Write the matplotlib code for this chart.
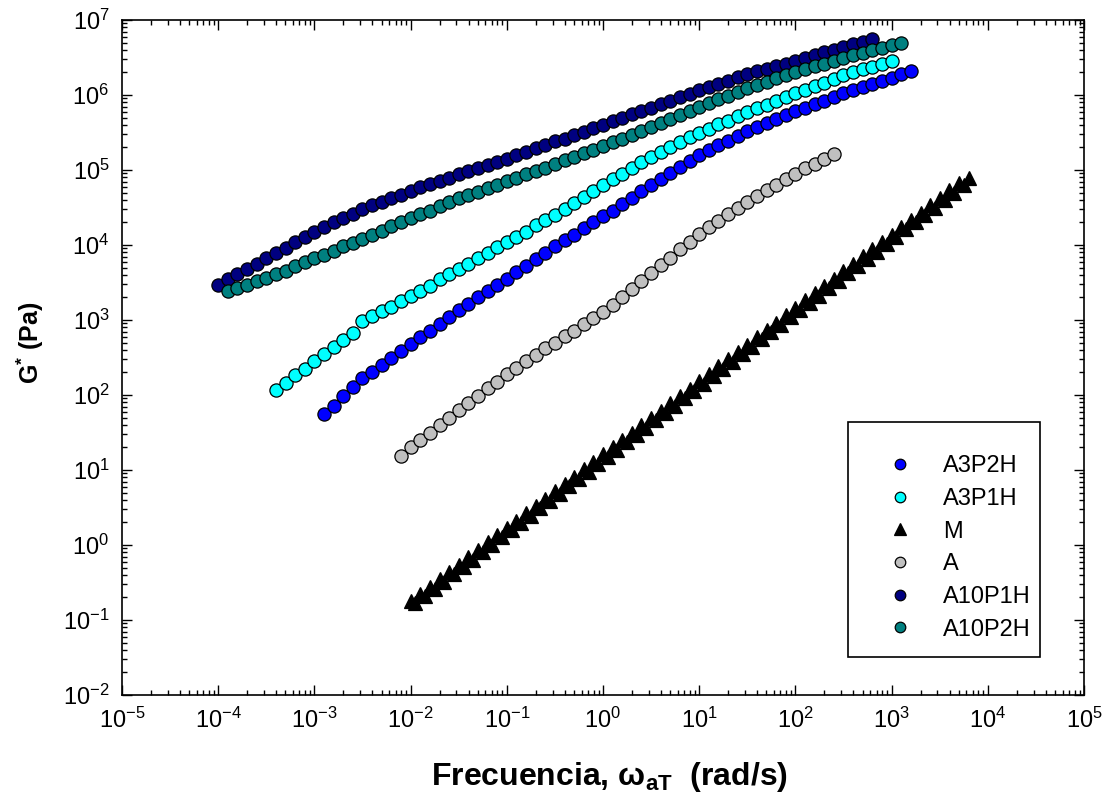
import matplotlib
matplotlib.use('Agg')
import matplotlib.pyplot as plt
from matplotlib.patches import Rectangle
from matplotlib.ticker import LogLocator, NullFormatter

plt.rcParams['font.family'] = ['Liberation Sans', 'DejaVu Sans']
plt.rcParams['mathtext.fontset'] = 'custom'
plt.rcParams['mathtext.rm'] = 'Liberation Sans'
plt.rcParams['mathtext.it'] = 'Liberation Sans:italic'
plt.rcParams['mathtext.bf'] = 'Liberation Sans:bold'
plt.rcParams['mathtext.default'] = 'regular'

# A3P2H
a3p2h_w = [1.26e-3, 1.58e-3, 2.00e-3, 2.51e-3, 3.16e-3, 3.98e-3, 5.01e-3, 6.31e-3, 7.94e-3,
           1.00e-2, 1.26e-2, 1.58e-2, 2.00e-2, 2.51e-2, 3.16e-2, 3.98e-2, 5.01e-2, 6.31e-2, 7.94e-2,
           1.00e-1, 1.26e-1, 1.58e-1, 2.00e-1, 2.51e-1, 3.16e-1, 3.98e-1, 5.01e-1, 6.31e-1, 7.94e-1,
           1.00, 1.26, 1.58, 2.00, 2.51, 3.16, 3.98, 5.01, 6.31, 7.94,
           10.0, 12.6, 15.8, 20.0, 25.1, 31.6, 39.8, 50.1, 63.1, 79.4,
           100, 126, 158, 200, 251, 316, 398, 501, 631, 794,
           1000, 1260, 1580]
a3p2h_g = [5.50e1, 7.24e1, 9.55e1, 1.26e2, 1.66e2, 2.04e2, 2.51e2, 3.16e2, 3.89e2,
           4.79e2, 5.89e2, 7.24e2, 8.91e2, 1.10e3, 1.35e3, 1.62e3, 2.00e3, 2.40e3, 2.95e3,
           3.55e3, 4.37e3, 5.25e3, 6.46e3, 7.76e3, 9.55e3, 1.15e4, 1.38e4, 1.66e4, 2.00e4,
           2.40e4, 2.88e4, 3.55e4, 4.27e4, 5.25e4, 6.31e4, 7.59e4, 9.12e4, 1.10e5, 1.32e5,
           1.58e5, 1.82e5, 2.14e5, 2.45e5, 2.88e5, 3.31e5, 3.72e5, 4.17e5, 4.79e5, 5.37e5,
           6.03e5, 6.76e5, 7.59e5, 8.32e5, 9.33e5, 1.05e6, 1.15e6, 1.29e6, 1.41e6, 1.55e6,
           1.70e6, 1.91e6, 2.09e6]

# A3P1H
a3p1h_w = [3.98e-4, 5.01e-4, 6.31e-4, 7.94e-4,
           1.00e-3, 1.26e-3, 1.58e-3, 2.00e-3, 2.51e-3, 3.16e-3, 3.98e-3, 5.01e-3, 6.31e-3, 7.94e-3,
           1.00e-2, 1.26e-2, 1.58e-2, 2.00e-2, 2.51e-2, 3.16e-2, 3.98e-2, 5.01e-2, 6.31e-2, 7.94e-2,
           1.00e-1, 1.26e-1, 1.58e-1, 2.00e-1, 2.51e-1, 3.16e-1, 3.98e-1, 5.01e-1, 6.31e-1, 7.94e-1,
           1.00, 1.26, 1.58, 2.00, 2.51, 3.16, 3.98, 5.01, 6.31, 7.94,
           10.0, 12.6, 15.8, 20.0, 25.1, 31.6, 39.8, 50.1, 63.1, 79.4,
           100, 126, 158, 200, 251, 316, 398, 501, 631, 794,
           1000]
a3p1h_g = [1.15e2, 1.45e2, 1.82e2, 2.24e2,
           2.82e2, 3.47e2, 4.37e2, 5.37e2, 6.61e2, 9.55e2, 1.12e3, 1.32e3, 1.51e3, 1.78e3,
           2.09e3, 2.45e3, 2.88e3, 3.47e3, 4.07e3, 4.79e3, 5.62e3, 6.61e3, 7.94e3, 9.33e3,
           1.10e4, 1.29e4, 1.51e4, 1.82e4, 2.14e4, 2.51e4, 3.02e4, 3.63e4, 4.37e4, 5.25e4,
           6.31e4, 7.59e4, 8.91e4, 1.07e5, 1.26e5, 1.51e5, 1.74e5, 2.04e5, 2.34e5, 2.75e5,
           3.16e5, 3.55e5, 4.07e5, 4.57e5, 5.25e5, 5.89e5, 6.61e5, 7.41e5, 8.32e5, 9.33e5,
           1.05e6, 1.17e6, 1.32e6, 1.45e6, 1.62e6, 1.82e6, 2.00e6, 2.19e6, 2.34e6, 2.57e6,
           2.82e6]

# M
m_w = [1.00e-2, 1.12e-2, 1.26e-2, 1.41e-2, 1.58e-2, 1.78e-2, 2.00e-2, 2.24e-2, 2.51e-2, 2.82e-2,
       3.16e-2, 3.55e-2, 3.98e-2, 4.47e-2, 5.01e-2, 5.62e-2, 6.31e-2, 7.08e-2, 7.94e-2, 8.91e-2,
       0.100, 0.112, 0.126, 0.141, 0.158, 0.178, 0.200, 0.224, 0.251, 0.282,
       0.316, 0.355, 0.398, 0.447, 0.501, 0.562, 0.631, 0.708, 0.794, 0.891,
       1.00, 1.12, 1.26, 1.41, 1.58, 1.78, 2.00, 2.24, 2.51, 2.82,
       3.16, 3.55, 3.98, 4.47, 5.01, 5.62, 6.31, 7.08, 7.94, 8.91,
       10.0, 11.2, 12.6, 14.1, 15.8, 17.8, 20.0, 22.4, 25.1, 28.2,
       31.6, 35.5, 39.8, 44.7, 50.1, 56.2, 63.1, 70.8, 79.4, 89.1,
       100, 112, 126, 141, 158, 178, 200, 224, 251, 282,
       316, 355, 398, 447, 501, 562, 631, 708, 794, 891,
       1000, 1120, 1260, 1410, 1580, 1780, 2000, 2240, 2510, 2820,
       3160, 3550, 3980, 4470, 5010, 5620, 6310]
m_g = [0.178, 0.166, 0.223, 0.207, 0.279, 0.259, 0.349, 0.325, 0.438, 0.407,
       0.548, 0.511, 0.687, 0.640, 0.861, 0.800, 1.08, 1.00, 1.35, 1.26,
       1.69, 1.57, 2.12, 1.97, 2.65, 2.47, 3.32, 3.09, 4.16, 3.87,
       5.21, 4.85, 6.53, 6.08, 8.18, 7.62, 10.2, 9.53, 12.8, 11.9,
       16.1, 15.0, 20.1, 18.7, 25.2, 23.5, 31.6, 29.4, 39.5, 36.8,
       49.5, 46.1, 62.1, 57.8, 77.8, 72.4, 97.3, 90.6, 122, 114,
       153, 142, 191, 178, 240, 223, 301, 279, 376, 350,
       471, 439, 590, 550, 740, 689, 925, 861, 1160, 1080,
       1450, 1350, 1820, 1690, 2280, 2120, 2850, 2650, 3570, 3330,
       4480, 4170, 5610, 5220, 7030, 6550, 8790, 8180, 11000, 10300,
       13800, 12900, 17300, 16100, 21700, 20200, 27100, 25200, 34000, 31600,
       42600, 39600, 53300, 49700, 66800, 62200, 79000]

# A
a_w = [7.94e-3,
       1.00e-2, 1.26e-2, 1.58e-2, 2.00e-2, 2.51e-2, 3.16e-2, 3.98e-2, 5.01e-2, 6.31e-2, 7.94e-2,
       1.00e-1, 1.26e-1, 1.58e-1, 2.00e-1, 2.51e-1, 3.16e-1, 3.98e-1, 5.01e-1, 6.31e-1, 7.94e-1,
       1.00, 1.26, 1.58, 2.00, 2.51, 3.16, 3.98, 5.01, 6.31, 7.94,
       10.0, 12.6, 15.8, 20.0, 25.1, 31.6, 39.8, 50.1, 63.1, 79.4,
       100, 126, 158, 200, 251]
a_g = [1.55e1,
       2.00e1, 2.51e1, 3.16e1, 3.98e1, 5.01e1, 6.31e1, 7.94e1, 9.77e1, 1.23e2, 1.51e2,
       1.91e2, 2.29e2, 2.82e2, 3.39e2, 4.17e2, 5.01e2, 6.03e2, 7.24e2, 8.71e2, 1.05e3,
       1.26e3, 1.58e3, 2.04e3, 2.57e3, 3.31e3, 4.17e3, 5.37e3, 6.76e3, 8.71e3, 1.10e4,
       1.41e4, 1.74e4, 2.09e4, 2.57e4, 3.09e4, 3.80e4, 4.47e4, 5.37e4, 6.31e4, 7.59e4,
       8.91e4, 1.05e5, 1.20e5, 1.41e5, 1.62e5]

# A10P1H
a10p1h_w = [1.00e-4, 1.26e-4, 1.58e-4, 2.00e-4, 2.51e-4, 3.16e-4, 3.98e-4, 5.01e-4, 6.31e-4, 7.94e-4,
            1.00e-3, 1.26e-3, 1.58e-3, 2.00e-3, 2.51e-3, 3.16e-3, 3.98e-3, 5.01e-3, 6.31e-3, 7.94e-3,
            1.00e-2, 1.26e-2, 1.58e-2, 2.00e-2, 2.51e-2, 3.16e-2, 3.98e-2, 5.01e-2, 6.31e-2, 7.94e-2,
            1.00e-1, 1.26e-1, 1.58e-1, 2.00e-1, 2.51e-1, 3.16e-1, 3.98e-1, 5.01e-1, 6.31e-1, 7.94e-1,
            1.00, 1.26, 1.58, 2.00, 2.51, 3.16, 3.98, 5.01, 6.31, 7.94,
            10.0, 12.6, 15.8, 20.0, 25.1, 31.6, 39.8, 50.1, 63.1, 79.4,
            100, 126, 158, 200, 251, 316, 398, 501, 631]
a10p1h_g = [2.95e3, 3.47e3, 4.07e3, 4.79e3, 5.62e3, 6.61e3, 7.76e3, 9.12e3, 1.10e4, 1.29e4,
            1.51e4, 1.74e4, 2.00e4, 2.29e4, 2.63e4, 3.02e4, 3.39e4, 3.80e4, 4.17e4, 4.68e4,
            5.25e4, 5.89e4, 6.46e4, 7.24e4, 7.94e4, 8.91e4, 9.77e4, 1.07e5, 1.17e5, 1.29e5,
            1.41e5, 1.58e5, 1.74e5, 1.95e5, 2.14e5, 2.40e5, 2.63e5, 2.95e5, 3.24e5, 3.63e5,
            3.98e5, 4.47e5, 4.90e5, 5.50e5, 6.03e5, 6.76e5, 7.59e5, 8.32e5, 9.33e5, 1.02e6,
            1.15e6, 1.26e6, 1.41e6, 1.55e6, 1.74e6, 1.91e6, 2.09e6, 2.24e6, 2.45e6, 2.63e6,
            2.88e6, 3.16e6, 3.39e6, 3.72e6, 3.98e6, 4.37e6, 4.79e6, 5.13e6, 5.62e6]

# A10P2H
a10p2h_w = [1.26e-4, 1.58e-4, 2.00e-4, 2.51e-4, 3.16e-4, 3.98e-4, 5.01e-4, 6.31e-4, 7.94e-4,
            1.00e-3, 1.26e-3, 1.58e-3, 2.00e-3, 2.51e-3, 3.16e-3, 3.98e-3, 5.01e-3, 6.31e-3, 7.94e-3,
            1.00e-2, 1.26e-2, 1.58e-2, 2.00e-2, 2.51e-2, 3.16e-2, 3.98e-2, 5.01e-2, 6.31e-2, 7.94e-2,
            1.00e-1, 1.26e-1, 1.58e-1, 2.00e-1, 2.51e-1, 3.16e-1, 3.98e-1, 5.01e-1, 6.31e-1, 7.94e-1,
            1.00, 1.26, 1.58, 2.00, 2.51, 3.16, 3.98, 5.01, 6.31, 7.94,
            10.0, 12.6, 15.8, 20.0, 25.1, 31.6, 39.8, 50.1, 63.1, 79.4,
            100, 126, 158, 200, 251, 316, 398, 501, 631, 794,
            1000, 1260]
a10p2h_g = [2.40e3, 2.69e3, 2.95e3, 3.31e3, 3.63e3, 4.07e3, 4.57e3, 5.25e3, 5.89e3,
            6.61e3, 7.41e3, 8.32e3, 9.55e3, 1.07e4, 1.20e4, 1.38e4, 1.55e4, 1.78e4, 2.00e4,
            2.29e4, 2.57e4, 2.88e4, 3.31e4, 3.72e4, 4.17e4, 4.68e4, 5.13e4, 5.75e4, 6.31e4,
            7.08e4, 7.94e4, 8.71e4, 9.77e4, 1.07e5, 1.20e5, 1.35e5, 1.51e5, 1.66e5, 1.86e5,
            2.09e5, 2.34e5, 2.63e5, 2.95e5, 3.31e5, 3.72e5, 4.17e5, 4.79e5, 5.37e5, 6.17e5,
            6.92e5, 7.76e5, 8.71e5, 9.77e5, 1.10e6, 1.23e6, 1.35e6, 1.51e6, 1.66e6, 1.86e6,
            2.04e6, 2.24e6, 2.40e6, 2.63e6, 2.82e6, 3.09e6, 3.39e6, 3.63e6, 3.98e6, 4.27e6,
            4.68e6, 5.01e6]

series = [
    (a3p2h_w, a3p2h_g, 'A3P2H', 'o', '#0000ff'),
    (a3p1h_w, a3p1h_g, 'A3P1H', 'o', '#00ffff'),
    (m_w, m_g, 'M', '^', '#000000'),
    (a_w, a_g, 'A', 'o', '#c0c0c0'),
    (a10p1h_w, a10p1h_g, 'A10P1H', 'o', '#000080'),
    (a10p2h_w, a10p2h_g, 'A10P2H', 'o', '#008080'),
]

fig = plt.figure(figsize=(11.04, 8.02), dpi=100)
ax = fig.add_axes([122 / 1104, 1 - 695 / 802, 962 / 1104, 675 / 802])

for w, g, lab, mk, col in series:
    ms = 10.5 if mk == '^' else 9.5
    ax.plot(w, g, linestyle='none', marker=mk, markersize=ms,
            markerfacecolor=col, markeredgecolor='black', markeredgewidth=0.9, label=lab)

ax.set_xscale('log')
ax.set_yscale('log')
ax.set_xlim(1e-5, 1e5)
ax.set_ylim(1e-2, 1e7)
for axis in (ax.xaxis, ax.yaxis):
    axis.set_major_locator(LogLocator(base=10, numticks=20))
    axis.set_minor_locator(LogLocator(base=10, subs=range(2, 10), numticks=20))
    axis.set_minor_formatter(NullFormatter())
ax.tick_params(which='both', direction='in', top=True, right=True, width=1)
ax.tick_params(which='major', length=7, labelsize=17, pad=9)
ax.tick_params(which='minor', length=3.5)
for sp in ax.spines.values():
    sp.set_linewidth(1.2)

# legend entries without frame, box drawn separately
leg = ax.legend(loc='upper left', bbox_to_anchor=(0.7827, 0.355), frameon=False,
                fontsize=17, markerscale=0.8, handletextpad=0.8, labelspacing=0.45,
                borderpad=0, borderaxespad=0, handlelength=2.1)
ax.add_patch(Rectangle((0.7547, 0.0563), 0.1996, 0.3481, transform=ax.transAxes,
                       fill=False, edgecolor='black', linewidth=1.2, zorder=5))

fig.text(610 / 1104, 1 - 777 / 802, r'Frecuencia, $\mathbf{\omega}_{\mathbf{aT}}$  (rad/s)',
         fontsize=23, fontweight='bold', ha='center', va='center')
fig.text(30 / 1104, 1 - 343 / 802, r'G$^{*}$ (Pa)', fontsize=18, fontweight='bold',
         rotation=90, ha='center', va='center')

fig.savefig('out.png', dpi=100)
